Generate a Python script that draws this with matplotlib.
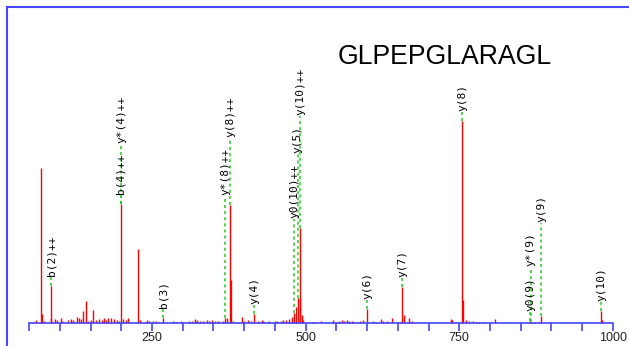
import numpy as np
import matplotlib
matplotlib.use("Agg")
import matplotlib.pyplot as plt

# peptide and spectrum (m/z, relative intensity with y(8) = 100)
peptide = "GLPEPGLARAGL"

peak_mz = [55.9, 60.8, 70.1, 71.5, 74.3, 85.2, 86.05, 92.2, 95.9, 101.4, 104.0,
           113.8, 117.7, 121.0, 127.5, 130.7, 134.5, 137.2, 142.1, 145.4, 150.2,
           154.5, 158.9, 164.2, 168.1, 171.9, 175.1, 178.9, 182.8, 188.6, 192.6,
           195.8, 199.1, 203.3, 207.7, 211.4, 227.7, 230.5, 241.4, 245.6, 251.1,
           256.5, 268.2, 283.7, 288.6, 296.7, 310.7, 314.6, 320.0, 323.7, 328.1,
           333.5, 339.0, 342.7, 347.1, 352.5, 357.9, 365.0, 369.2, 371.5, 377.7,
           378.4, 381.3, 396.0, 399.7, 406.7, 410.6, 416.3, 422.0, 428.5, 431.0,
           440.8, 450.1, 453.8, 459.4, 463.6, 467.5, 473.4, 478.3, 481.8, 485.0,
           487.3, 490.4, 491.4, 493.5, 496.2, 509.8, 513.6, 525.0, 545.0, 554.8,
           558.6, 562.4, 566.8, 571.0, 574.9, 578.7, 588.4, 593.8, 600.4, 610.0,
           614.4, 622.1, 626.3, 632.8, 640.0, 648.1, 653.5, 657.4, 660.0, 668.6,
           672.5, 736.0, 738.1, 754.5, 755.6, 760.4, 766.3, 771.8, 777.1, 782.5,
           788.1, 791.8, 808.0, 865.5, 866.8, 873.1, 883.5, 980.5, 981.6]
peak_int = [0.8, 1.6, 76.7, 4.5, 1.3, 2.5, 18.7, 2.0, 1.6, 2.5, 1.1,
            1.6, 2.0, 1.6, 3.3, 2.5, 2.1, 6.3, 11.2, 1.3, 1.6,
            6.6, 1.6, 2.0, 1.6, 2.5, 1.6, 2.8, 2.5, 2.0, 1.6,
            1.2, 58.9, 2.0, 1.6, 2.8, 36.6, 1.6, 1.6, 1.2, 1.2,
            1.0, 2.8, 1.1, 0.8, 1.1, 1.1, 1.3, 2.0, 1.6, 1.1,
            1.3, 1.6, 1.3, 1.6, 1.1, 1.3, 1.1, 2.8, 2.5, 58.4,
            21.3, 1.2, 3.3, 1.1, 1.6, 1.1, 4.5, 1.3, 1.6, 1.1,
            1.1, 1.3, 1.1, 1.3, 1.6, 1.6, 2.0, 3.3, 5.0, 8.3,
            12.4, 47.0, 12.4, 4.1, 1.6, 0.8, 0.8, 1.1, 1.6, 1.3,
            1.6, 1.3, 1.6, 1.1, 1.3, 0.8, 1.1, 1.6, 7.1, 1.1,
            0.8, 2.0, 1.1, 1.1, 2.5, 0.8, 0.8, 17.8, 4.1, 2.5,
            1.3, 2.0, 1.6, 100.0, 11.4, 1.6, 1.1, 1.1, 0.8, 0.8,
            0.8, 0.8, 2.1, 1.1, 0.8, 0.8, 3.5, 6.3, 1.6]

# fragment annotations
ion_names = ["b(2)++", "b(4)++", "y*(4)++", "b(3)", "y*(8)++", "y(8)++", "y(4)",
             "y0(10)++", "y(5)", "y(10)++", "y(6)", "y(7)", "y(8)",
             "y0(9)", "y*(9)", "y(9)", "y(10)"]
ion_mz = [86.05, 199.1, 200.1, 268.2, 369.2, 377.7, 416.3,
          481.8, 487.3, 490.8, 600.4, 657.4, 754.5,
          865.5, 866.5, 883.5, 980.5]

tick_values = np.arange(50, 1001, 50)
tick_labels = [250, 500, 750, 1000]

blue = "#4646ff"
W, H = 629, 346
fig = plt.figure(figsize=(W / 100, H / 100), dpi=100)
ax = fig.add_axes([7 / W, -20 / H, (660 - 7) / W, (338.7 + 20) / H])
ax.set_xlim(14.07, 1076.6)
ax.set_ylim(-21.14, 156.4)
ax.set_xticks([])
ax.set_yticks([])
for s in ["right", "bottom"]:
    ax.spines[s].set_visible(False)
for s in ["left", "top"]:
    ax.spines[s].set_color(blue)
    ax.spines[s].set_linewidth(1.5)

# pixels per data unit
ppx = ax.transData.transform((1, 0))[0] - ax.transData.transform((0, 0))[0]
ppy = ax.transData.transform((0, 1))[1] - ax.transData.transform((0, 0))[1]

ax.vlines(peak_mz, 0, peak_int, color="red", lw=1.0)

# axis line, ticks, labels
ax.plot([tick_values[0], tick_values[-1]], [0, 0], color=blue, lw=1.2)
ax.vlines(tick_values, -8 / ppy, 0, color=blue, lw=1.2)
for t in tick_labels:
    ax.text(t, -15 / ppy, str(t), ha="center", va="center", fontsize=9,
            family="Liberation Sans", color="#222222")

fig.text(445 / W, (346 - 64.3) / H, peptide, ha="center", va="baseline",
         fontsize=19.2, family="Liberation Sans")

# label placement
renderer = fig.canvas.get_renderer()
mz_arr = np.array(peak_mz)
int_arr = np.array(peak_int)
placed = []
order = np.argsort(ion_mz, kind="stable")
for i in order:
    name, mz = ion_names[i], ion_mz[i]
    own = int_arr[np.argmin(np.abs(mz_arr - mz))]
    near = int_arr[np.abs(mz_arr - mz) * ppx <= 7]
    top_peak = max(near.max() if len(near) else own, own)
    base = top_peak * ppy + 10
    t = ax.text(mz, 0, name, rotation=90, ha="center", va="bottom",
                fontsize=8, family="DejaVu Sans Mono")
    L = t.get_window_extent(renderer).height
    moved = True
    while moved:
        moved = False
        for (xq, b, tp) in placed:
            if abs(xq - mz) * ppx < 12 and base < tp + 11 and base + L > b - 11:
                base = tp + 11
                moved = True
    placed.append((mz, base, base + L))
    t.set_y(base / ppy)
    ax.plot([mz, mz], [own, (base - 1) / ppy], color="#22cc22", lw=1.1,
            ls=(0, (2, 2)))

fig.savefig("out.png", dpi=100)
